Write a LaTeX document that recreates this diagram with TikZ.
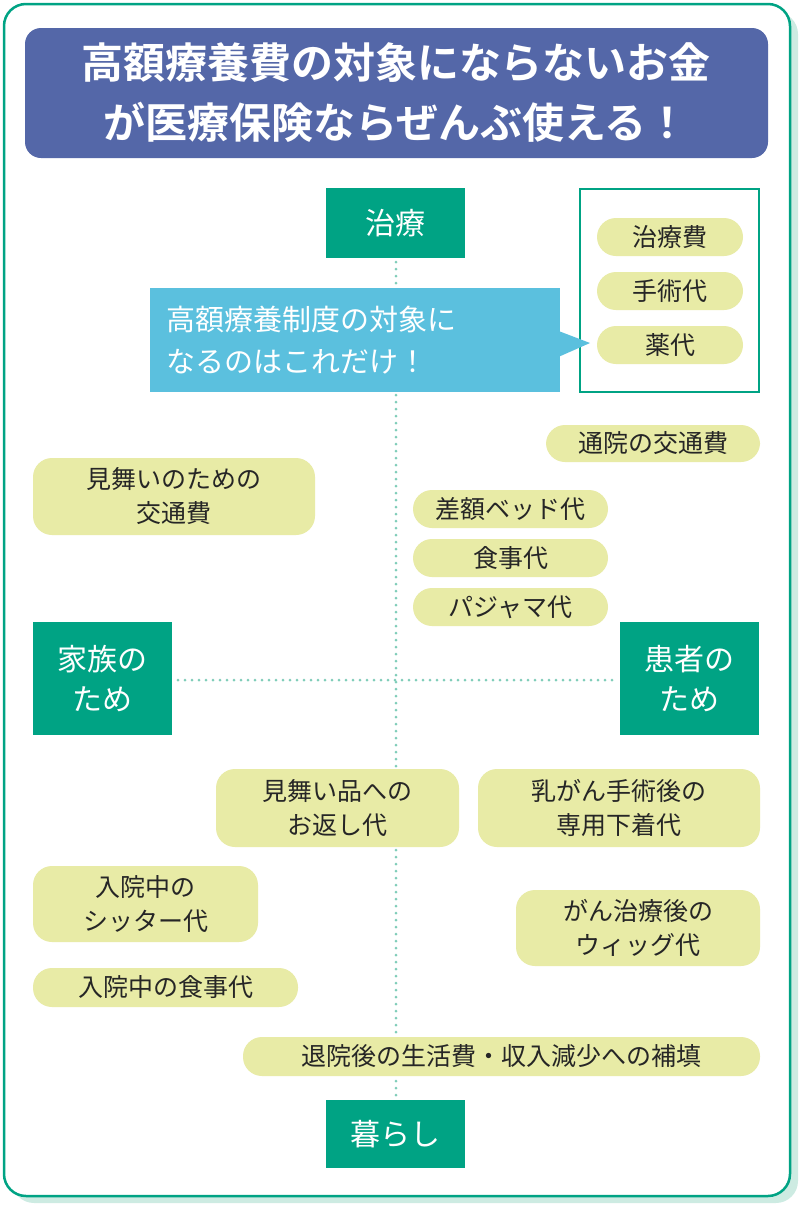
\documentclass[tikz,border=0pt]{standalone}
\usepackage{fontspec}
\setmainfont{Noto Sans CJK JP}
\newfontfamily\jpb{Noto Sans CJK JP Bold}
\definecolor{teal1}{HTML}{00A384}
\definecolor{dotc}{HTML}{7FCDB9}
\definecolor{pill}{HTML}{E8EBA6}
\definecolor{titleb}{HTML}{5467A8}
\definecolor{callb}{HTML}{5BC0DE}
\definecolor{shadow}{HTML}{CDEBE2}
\tikzset{
 pillbox/.style={fill=pill,rounded corners=19pt,inner sep=0pt},
 pilltxt/.style={font=\fontsize{25}{34}\selectfont,align=center,text=black!85},
 axisbox/.style={fill=teal1,text=white,font=\fontsize{30}{40}\selectfont,align=center,inner sep=0pt},
 dotl/.style={dotc,line width=3pt,dash pattern=on 0pt off 7pt,line cap=round}
}
\newcommand{\pillat}[6]{% name x1 y1 x2 y2 text
 \path[pillbox] (#2,#3) rectangle (#4,#5);
 \node[pilltxt] (#1) at ({(#2+#4)/2},{(#3+#5)/2}) {#6};}
\begin{document}
\begin{tikzpicture}[x=1pt,y=-1pt]
\useasboundingbox (0,0) rectangle (800,1205);
\fill[shadow,rounded corners=22pt] (12,12) rectangle (798,1203);
\draw[teal1,line width=2.5pt,fill=white,rounded corners=22pt] (4,4) rectangle (790,1196);
\fill[titleb,rounded corners=16pt] (25,28) rectangle (768,158);
\node[text=white,font=\jpb\fontsize{42}{60}\selectfont,align=center] (title) at (396,93) {高額療養費の対象にならないお金\\が医療保険ならぜんぶ使える！};
% axes
\draw[dotl] (396,262) -- (396,1098);
\draw[dotl] (178,680) -- (616,680);
\path[fill=teal1] (326,188) rectangle (465,258);
\node[axisbox] (chiryo) at (395.5,223) {治療};
\path[fill=teal1] (326,1100) rectangle (465,1168);
\node[axisbox] (kurashi) at (395.5,1134) {暮らし};
\path[fill=teal1] (33,622) rectangle (172,735);
\node[axisbox] (kazoku) at (102.5,678.5) {家族の\\ため};
\path[fill=teal1] (620,622) rectangle (759,735);
\node[axisbox] (kanja) at (689.5,678.5) {患者の\\ため};
% right frame
\draw[teal1,line width=1.8pt,fill=white] (580,189) rectangle (759,392);
\pillat{p1}{597}{218}{743}{256}{治療費}
\pillat{p2}{597}{272}{743}{310}{手術代}
\pillat{p3}{597}{326}{743}{364}{薬代}
% callout
\fill[callb] (150,288) rectangle (560,392);
\fill[callb] (556,330) -- (590,343) -- (556,358) -- cycle;
\node[text=white,font=\fontsize{29}{42}\selectfont,align=left,anchor=west] (call) at (163,340) {高額療養制度の対象に\\なるのはこれだけ！};
% pills
\pillat{a}{546}{425}{760}{462}{通院の交通費}
\pillat{b}{33}{458}{315}{535}{見舞いのための\\交通費}
\pillat{c}{413}{490}{608}{528}{差額ベッド代}
\pillat{d}{413}{539}{608}{577}{食事代}
\pillat{e}{413}{588}{608}{626}{パジャマ代}
\pillat{f}{216}{769}{459}{847}{見舞い品への\\お返し代}
\pillat{g}{478}{769}{760}{847}{乳がん手術後の\\専用下着代}
\pillat{h}{33}{866}{258}{942}{入院中の\\シッター代}
\pillat{i}{516}{890}{760}{966}{がん治療後の\\ウィッグ代}
\pillat{j}{33}{968}{298}{1007}{入院中の食事代}
\pillat{k}{243}{1037}{760}{1076}{退院後の生活費・収入減少への補填}
\end{tikzpicture}
\end{document}
